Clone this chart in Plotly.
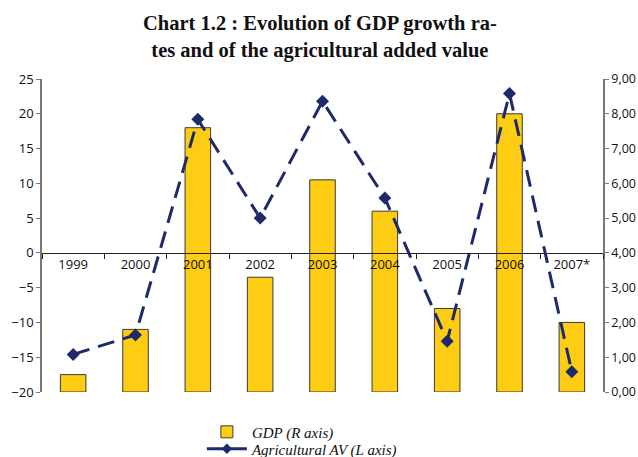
import plotly.graph_objects as go

years = ["1999", "2000", "2001", "2002", "2003", "2004", "2005", "2006", "2007*"]
gdp_r_axis = [0.5, 1.8, 7.6, 3.3, 6.1, 5.2, 2.4, 8.0, 2.0]
agri_av_l_axis = [-14.6, -11.8, 19.2, 5.0, 21.8, 7.9, -12.7, 22.9, -17.1]

left_ticks = list(range(-20, 30, 5))
right_ticks = list(range(0, 10))

NAVY = "#1F2A6B"
GOLD = "#FFCC14"
tick_font = dict(family="Open Sans, Liberation Sans, sans-serif", size=13, color="#111")
legend_font = dict(family="Liberation Serif, serif", size=15, color="#111")

fig = go.Figure()
# bars on the right axis (drawn first, underneath)
fig.add_trace(
    go.Bar(
        x=years,
        y=gdp_r_axis,
        yaxis="y",
        name="<i>GDP (R axis)</i>",
        marker=dict(color=GOLD, line=dict(color="#3a3a3a", width=1)),
        width=0.41,
        legend="legend",
    )
)
# line on the left axis (overlaying, so it sits on top of the bars)
fig.add_trace(
    go.Scatter(
        x=years,
        y=agri_av_l_axis,
        yaxis="y2",
        mode="lines+markers",
        line=dict(color=NAVY, width=3, dash="17px,9px"),
        marker=dict(symbol="diamond", size=10, color=NAVY),
        showlegend=False,
    )
)
# legend proxy so the legend shows a solid line like the original
fig.add_trace(
    go.Scatter(
        x=[None],
        y=[None],
        yaxis="y2",
        mode="lines+markers",
        name="<i>Agricultural AV (L axis)</i>",
        line=dict(color=NAVY, width=3),
        marker=dict(symbol="diamond", size=8, color=NAVY),
        legend="legend2",
    )
)

fig.add_annotation(
    text="Chart 1.2 : Evolution of GDP growth ra-<br>tes and of the agricultural added value",
    xref="paper",
    yref="paper",
    x=0.4955,
    y=1.22,
    xanchor="center",
    yanchor="top",
    showarrow=False,
    align="center",
    font=dict(family="Liberation Serif, serif", size=20.5, color="#111", weight="bold"),
)

legend_common = dict(
    x=0.285,
    xanchor="left",
    yanchor="middle",
    font=legend_font,
    itemwidth=40,
    bgcolor="rgba(0,0,0,0)",
)

fig.update_layout(
    width=638,
    height=457,
    margin=dict(l=42, r=35, t=79, b=65, autoexpand=False),
    paper_bgcolor="white",
    plot_bgcolor="white",
    separators=", ",
    xaxis=dict(
        type="category",
        anchor="free",
        position=20 / 45,
        showline=True,
        linecolor="#222",
        linewidth=1,
        ticks="outside",
        tickson="boundaries",
        ticklen=5,
        tickcolor="#222",
        tickfont=tick_font,
        showgrid=False,
        zeroline=False,
        range=[-0.5, 8.5],
    ),
    yaxis=dict(
        range=[0, 9],
        tickvals=right_ticks,
        tickformat=".2f",
        side="right",
        showline=True,
        linecolor="#777",
        linewidth=1.5,
        ticks="outside",
        ticklen=4,
        tickcolor="#777",
        tickfont=dict(tick_font, size=12.5),
        showgrid=False,
        zeroline=False,
    ),
    yaxis2=dict(
        range=[-20, 25],
        tickvals=left_ticks,
        overlaying="y",
        side="left",
        showline=True,
        linecolor="#777",
        linewidth=1.5,
        ticks="outside",
        ticklen=4,
        tickcolor="#777",
        tickfont=tick_font,
        showgrid=False,
        zeroline=False,
    ),
    legend=dict(legend_common, y=-0.128),
    legend2=dict(legend_common, y=-0.182),
    bargap=0.59,
)

# drop the default 8px page margin so the 638x457 figure fills the window
fig.write_html(
    "out.html",
    config={"displayModeBar": False},
    post_script="document.body.style.margin='0';document.body.style.overflow='hidden';",
)
